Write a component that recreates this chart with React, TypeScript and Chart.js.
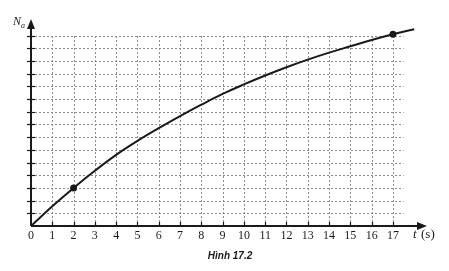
import React, { useEffect, useRef } from "react";
import { Chart, registerables } from "chart.js";

Chart.register(...registerables);

// Data
const timeValues = [0, 1, 2, 3, 4, 5, 6, 7, 8, 9, 10, 11, 12, 13, 14, 15, 16, 17, 18];
const naValues = [0, 1.55, 3, 4.35, 5.6, 6.7, 7.7, 8.65, 9.55, 10.4, 11.15, 11.85, 12.5, 13.1, 13.65, 14.15, 14.65, 15.1, 15.5];
const markedTimes = [2, 17];
const xTickLabels = ["0", "1", "2", "3", "4", "5", "6", "7", "8", "9", "10", "11", "12", "13", "14", "15", "16", "17"];
const yGridValues = [1, 2, 3, 4, 5, 6, 7, 8, 9, 10, 11, 12, 13, 14, 15];
const xGridValues = [1, 2, 3, 4, 5, 6, 7, 8, 9, 10, 11, 12, 13, 14, 15, 16, 17];
const gridXEnd = 17.5;
const gridYEnd = 15;
const xMax = 18.6;
const yMax = 16.3;
const caption = "Hình 17.2";

const gridAxesPlugin = {
  id: "gridAxes",
  beforeDatasetsDraw(chart: any) {
    const { ctx } = chart;
    const x = chart.scales.x;
    const y = chart.scales.y;
    const x0 = x.getPixelForValue(0);
    const y0 = y.getPixelForValue(0);
    ctx.save();
    // dotted grid
    ctx.strokeStyle = "#8c8c8c";
    ctx.lineWidth = 1;
    ctx.setLineDash([2, 2]);
    const gx1 = x.getPixelForValue(gridXEnd);
    const gy1 = y.getPixelForValue(gridYEnd);
    yGridValues.forEach((v) => {
      const py = Math.round(y.getPixelForValue(v)) + 0.5;
      ctx.beginPath();
      ctx.moveTo(x0, py);
      ctx.lineTo(gx1, py);
      ctx.stroke();
    });
    xGridValues.forEach((v) => {
      const px = Math.round(x.getPixelForValue(v)) + 0.5;
      ctx.beginPath();
      ctx.moveTo(px, y0);
      ctx.lineTo(px, gy1);
      ctx.stroke();
    });
    ctx.setLineDash([]);

    // axes
    ctx.strokeStyle = "#1a1a1a";
    ctx.fillStyle = "#1a1a1a";
    ctx.lineWidth = 2;
    const xEnd = x.getPixelForValue(xMax);
    const yEnd = y.getPixelForValue(yMax);
    ctx.beginPath();
    ctx.moveTo(x0, y0);
    ctx.lineTo(xEnd - 6, y0);
    ctx.stroke();
    ctx.beginPath();
    ctx.moveTo(x0, y0);
    ctx.lineTo(x0, yEnd + 6);
    ctx.stroke();
    // arrowheads
    ctx.beginPath();
    ctx.moveTo(xEnd, y0);
    ctx.lineTo(xEnd - 10, y0 - 4);
    ctx.lineTo(xEnd - 10, y0 + 4);
    ctx.closePath();
    ctx.fill();
    ctx.beginPath();
    ctx.moveTo(x0, yEnd);
    ctx.lineTo(x0 - 4, yEnd + 10);
    ctx.lineTo(x0 + 4, yEnd + 10);
    ctx.closePath();
    ctx.fill();

    // tick marks
    ctx.lineWidth = 1.2;
    yGridValues.forEach((v) => {
      const py = Math.round(y.getPixelForValue(v)) + 0.5;
      ctx.beginPath();
      ctx.moveTo(x0 - 4, py);
      ctx.lineTo(x0 + 4, py);
      ctx.stroke();
    });
    xGridValues.forEach((v) => {
      const px = Math.round(x.getPixelForValue(v)) + 0.5;
      ctx.beginPath();
      ctx.moveTo(px, y0 - 4);
      ctx.lineTo(px, y0 + 1);
      ctx.stroke();
    });

    // axis titles
    ctx.textBaseline = "alphabetic";
    ctx.textAlign = "left";
    ctx.font = 'italic 12px "Liberation Serif"';
    ctx.fillText("N", 13, 25);
    ctx.font = 'italic 8px "Liberation Serif"';
    ctx.fillText("a", 21, 28);
    ctx.font = 'italic 13px "Liberation Serif"';
    ctx.fillText("t", 413, 238);
    ctx.font = '13px "Liberation Serif"';
    ctx.fillText("(s)", 421, 238);

    // caption
    ctx.textAlign = "center";
    ctx.font = 'bold italic 10px "Liberation Sans"';
    ctx.fillText(caption, 230, 259);
    ctx.restore();
  },
};

export default function App() {
  const canvasRef = useRef<HTMLCanvasElement | null>(null);

  useEffect(() => {
    if (!canvasRef.current) return;
    const points = timeValues.map((t, i) => ({ x: t, y: naValues[i] }));
    const chart = new Chart(canvasRef.current, {
      type: "line",
      data: {
        datasets: [
          {
            data: points,
            borderColor: "#1a1a1a",
            borderWidth: 2,
            tension: 0.4,
            fill: false,
            pointRadius: (c: any) => (markedTimes.includes(timeValues[c.dataIndex]) ? 3.5 : 0),
            pointBackgroundColor: "#1a1a1a",
            pointBorderColor: "#1a1a1a",
            pointBorderWidth: 0,
          },
        ],
      },
      options: {
        animation: false,
        responsive: true,
        maintainAspectRatio: false,
        layout: { padding: { left: 31, right: 22, top: 19, bottom: 0 } },
        plugins: { legend: { display: false }, tooltip: { enabled: false }, title: { display: false } },
        scales: {
          x: {
            type: "linear",
            min: 0,
            max: xMax,
            afterFit: (scale: any) => {
              scale.height = 45;
            },
            afterBuildTicks: (scale: any) => {
              scale.ticks = xTickLabels.map((l) => ({ value: Number(l) }));
            },
            grid: { display: false, drawTicks: false },
            border: { display: false },
            ticks: {
              padding: 3,
              color: "#1a1a1a",
              maxRotation: 0,
              autoSkip: false,
              font: { family: '"Liberation Serif"', size: 12 },
              callback: (v: any) => xTickLabels[Number(v)] ?? "",
            },
          },
          y: {
            type: "linear",
            min: 0,
            max: yMax,
            display: false,
          },
        },
      },
      plugins: [gridAxesPlugin],
    } as any);
    return () => chart.destroy();
  }, []);

  return (
    <div style={{ position: "fixed", left: 0, top: 0, width: 449, height: 271, background: "#fff" }}>
      <canvas ref={canvasRef} />
    </div>
  );
}
